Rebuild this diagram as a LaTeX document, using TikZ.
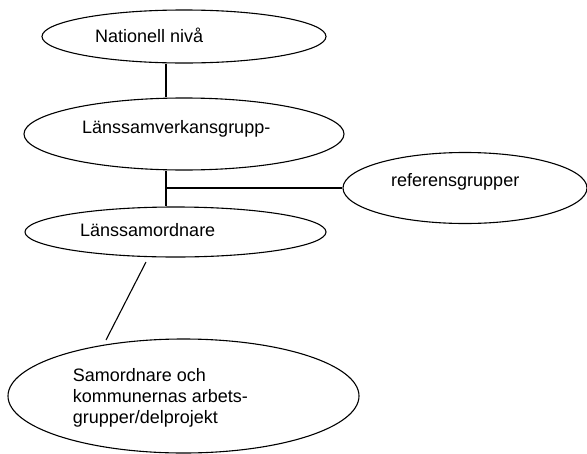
\documentclass[tikz,border=0pt]{standalone}
\usepackage{fontspec}
\setmainfont{Liberation Sans}
\usetikzlibrary{shapes.geometric}

\begin{document}
\begin{tikzpicture}[x=1pt,y=-1pt,
  bubble/.style={draw=black,line width=1.1pt,ellipse,inner sep=0pt,fill=white},
  label text/.style={font=\fontsize{18}{21.3}\selectfont,inner sep=0pt,text=black,align=left},
  link/.style={draw=black,line width=1.1pt}]
  \useasboundingbox (0,0) rectangle (587,453);

  % Organisation levels
  \node[bubble,minimum width=284pt,minimum height=53pt] (nat) at (184,36.5) {};
  \node[bubble,minimum width=320pt,minimum height=72pt] (lsg) at (184,134) {};
  \node[bubble,minimum width=244pt,minimum height=71pt] (ref) at (465,188) {};
  \node[bubble,minimum width=301pt,minimum height=50pt] (lso) at (175.5,232) {};
  \node[bubble,minimum width=351pt,minimum height=114pt] (kom) at (183.5,396) {};

  % Labels
  \node[label text,anchor=base west] (natT) at (95,42) {Nationell nivå};
  \node[label text,anchor=base west] (lsgT) at (82,133) {Länssamverkansgrupp-};
  \node[label text,anchor=base west] (refT) at (391,186) {referensgrupper};
  \node[label text,anchor=base west] (lsoT) at (80,236) {Länssamordnare};
  \node[label text,anchor=west] (komT) at (72.7,397.7)
    {Samordnare och\\kommunernas arbets-\\grupper/delprojekt};

  % Connectors
  \coordinate (spine) at (166,0);
  \coordinate (slantTop) at (146,262);
  \coordinate (slantEnd) at (106,340);
  \draw[link] (spine |- nat.south) -- (spine |- lsg.north);
  \draw[link] (spine |- lsg.south) -- (spine |- lso.north);
  \draw[link] (spine |- ref.west) -- (ref.west);
  \draw[link] (slantTop) -- (slantEnd);
\end{tikzpicture}
\end{document}
